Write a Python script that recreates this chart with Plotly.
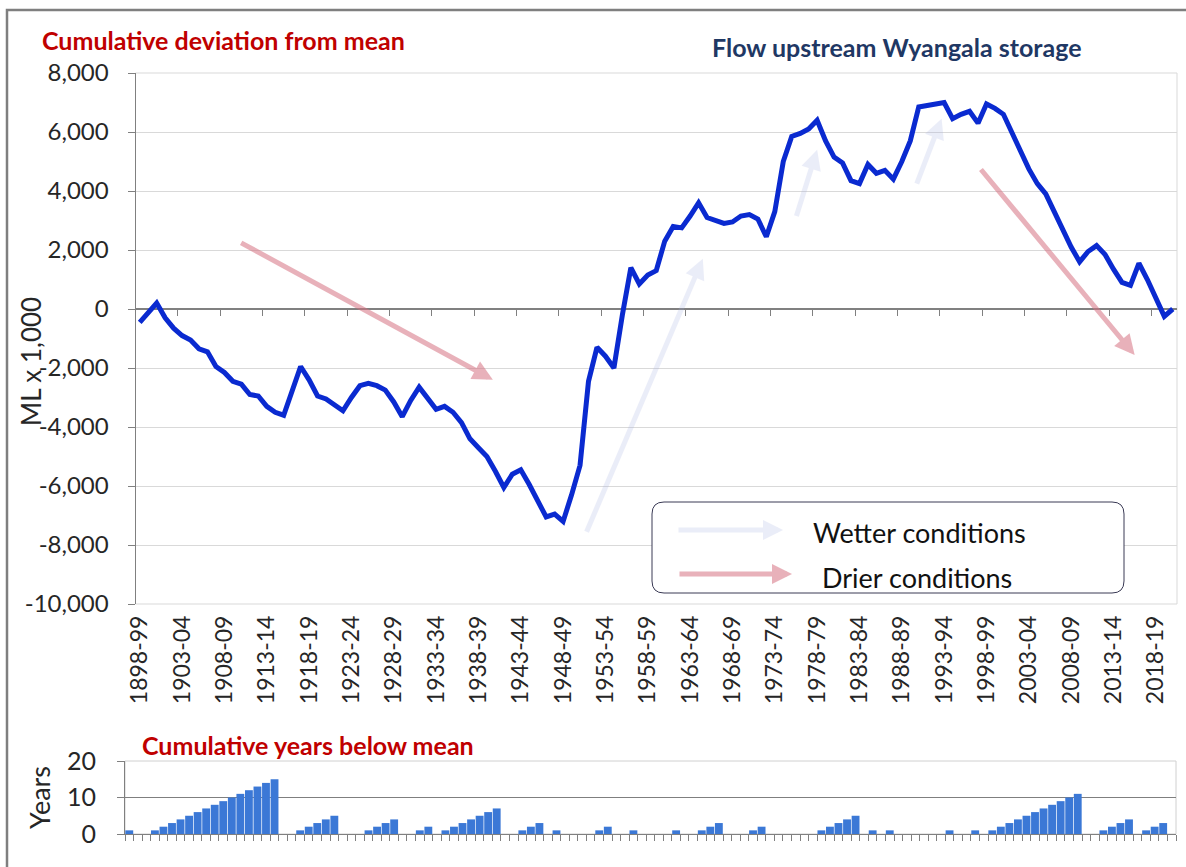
import plotly.graph_objects as go

# ---------------- data ----------------
start_year = 1898
n_years = 123
categories = [f"{y}-{str(y + 1)[-2:]}" for y in range(start_year, start_year + n_years)]

# cumulative deviation from mean (ML x 1,000), one value per water year
cum_dev = [
    -450, -120, 200, -300, -650, -900, -1050, -1350, -1450, -1950,
    -2150, -2450, -2550, -2900, -2950, -3300, -3500, -3600, -2800, -1950,
    -2400, -2950, -3050, -3250, -3450, -3000, -2600, -2520, -2600, -2750,
    -3150, -3650, -3100, -2650, -3000, -3400, -3300, -3500, -3850, -4400,
    -4700, -5000, -5500, -6050, -5600, -5450, -5950, -6500, -7050, -6950,
    -7200, -6300, -5300, -2450, -1300, -1600, -2000, -200, 1400, 850,
    1150, 1300, 2300, 2800, 2750, 3150, 3600, 3100, 3000, 2900,
    2950, 3150, 3200, 3050, 2450, 3300, 5000, 5850, 5950, 6100,
    6400, 5700, 5150, 4950, 4350, 4250, 4900, 4600, 4700, 4400,
    5000, 5700, 6850, 6900, 6920, 7000, 6450, 6600, 6700, 6300,
    6950, 6800, 6600, 5950, 5350, 4750, 4250, 3900, 3300, 2700,
    2100, 1600, 1950, 2150, 1850, 1350, 900, 800, 1550, 1000,
    350, -250, 0,
]

# cumulative years below mean
years_below = [
    1, 0, 0, 1, 2, 3, 4, 5, 6, 7, 8, 9, 10, 11, 12, 13, 14, 15, 0, 0,
    1, 2, 3, 4, 5, 0, 0, 0, 1, 2, 3, 4, 0, 0, 1, 2, 0, 1, 2, 3,
    4, 5, 6, 7, 0, 0, 1, 2, 3, 0, 1, 0, 0, 0, 0, 1, 2, 0, 0, 1,
    0, 0, 0, 0, 1, 0, 0, 1, 2, 3, 0, 0, 0, 1, 2, 0, 0, 0, 0, 0,
    0, 1, 2, 3, 4, 5, 0, 1, 0, 1, 0, 0, 0, 0, 0, 0, 1, 0, 0, 1,
    0, 1, 2, 3, 4, 5, 6, 7, 8, 9, 10, 11, 0, 0, 1, 2, 3, 4, 0, 1,
    2, 3, 0,
]

x_tick_labels = ["1898-99", "1903-04", "1908-09", "1913-14", "1918-19", "1923-24",
                 "1928-29", "1933-34", "1938-39", "1943-44", "1948-49", "1953-54",
                 "1958-59", "1963-64", "1968-69", "1973-74", "1978-79", "1983-84",
                 "1988-89", "1993-94", "1998-99", "2003-04", "2008-09", "2013-14",
                 "2018-19"]
y_tick_values = [8000, 6000, 4000, 2000, 0, -2000, -4000, -6000, -8000, -10000]
y_tick_labels = [f"{v:,}" for v in y_tick_values]
bar_tick_values = [0, 10, 20]

# --------------- layout helpers (pixel -> paper) ---------------
W, H = 1186, 867


def px(x):
    return x / W


def py(y):
    return 1 - y / H


idx = list(range(n_years))
label_pos = [categories.index(lbl) for lbl in x_tick_labels]
x_range = [-0.5, n_years - 0.5]
y_range = [-10000, 8000]

MAIN_TOP, MAIN_BOT = 73, 604
MAIN_L, MAIN_R = 135.5, 1177
BAR_TOP, BAR_BOT = 761, 834
BAR_L, BAR_R = 125, 1176

zero_pos = py(MAIN_TOP + (y_range[1] - 0) / (y_range[1] - y_range[0]) * (MAIN_BOT - MAIN_TOP))

CAL = "Lato, 'Open Sans', sans-serif"
TXT = "#262626"
GRAY = "#808080"

fig = go.Figure()

fig.add_trace(go.Scatter(
    x=idx, y=cum_dev, mode="lines",
    line=dict(color="#0a2ad0", width=5),
    xaxis="x", yaxis="y", hoverinfo="skip", showlegend=False,
))
# carrier trace for the tick-mark axis sitting on the zero line
fig.add_trace(go.Scatter(
    x=[idx[0]], y=[cum_dev[0]], mode="markers", marker=dict(opacity=0),
    xaxis="x2", yaxis="y", hoverinfo="skip", showlegend=False,
))
fig.add_trace(go.Bar(
    x=idx, y=years_below, marker=dict(color="#3b78d6", line=dict(width=0)),
    xaxis="x3", yaxis="y3", hoverinfo="skip", showlegend=False,
))

fig.update_layout(
    width=W, height=H, autosize=False,
    margin=dict(l=0, r=0, t=0, b=0, autoexpand=False),
    paper_bgcolor="white", plot_bgcolor="white",
    bargap=0.08,
    xaxis=dict(
        domain=[px(MAIN_L), px(MAIN_R)], range=x_range, anchor="y", automargin=False,
        tickmode="array", tickvals=label_pos, ticktext=x_tick_labels,
        tickangle=-90, ticks="", showgrid=False, zeroline=False, showline=False,
        tickfont=dict(family=CAL, size=23, color=TXT), ticklabelstandoff=6,
    ),
    xaxis2=dict(
        overlaying="x", anchor="free", position=zero_pos, range=x_range, automargin=False,
        tickmode="array", tickvals=[p + 4.5 for p in label_pos],
        ticks="outside", ticklen=6, tickcolor=GRAY, tickwidth=1,
        showticklabels=False, showgrid=False, zeroline=False, showline=False,
    ),
    yaxis=dict(
        domain=[py(MAIN_BOT), py(MAIN_TOP)], range=y_range, anchor="x", automargin=False,
        tickmode="array", tickvals=y_tick_values, ticktext=y_tick_labels,
        ticks="outside", ticklen=7, tickcolor=GRAY,
        showline=True, linecolor=GRAY, linewidth=1,
        showgrid=True, gridcolor="#d9d9d9", gridwidth=1,
        zeroline=True, zerolinecolor=GRAY, zerolinewidth=1.5,
        tickfont=dict(family=CAL, size=24, color=TXT), ticklabelstandoff=14,
    ),
    xaxis3=dict(
        domain=[px(BAR_L), px(BAR_R)], range=x_range, anchor="y3", automargin=False,
        tickmode="array", tickvals=[i - 0.5 for i in range(n_years + 1)],
        ticks="outside", ticklen=6, tickcolor=GRAY, showticklabels=False,
        showline=True, linecolor=GRAY, showgrid=False, zeroline=False,
    ),
    yaxis3=dict(
        domain=[py(BAR_BOT), py(BAR_TOP)], range=[0, 20], anchor="x3", automargin=False,
        tickmode="array", tickvals=bar_tick_values,
        ticks="outside", ticklen=7, tickcolor=GRAY,
        showline=True, linecolor=GRAY, showgrid=True, gridcolor="#7f7f7f",
        zeroline=False, tickfont=dict(family=CAL, size=25, color=TXT),
        ticklabelstandoff=16,
    ),
)

shapes = []
# outer chart frame (left and top)
shapes.append(dict(type="path", xref="paper", yref="paper",
                   path=f"M {px(7)},{py(880)} L {px(7)},{py(10)} L {px(1186)},{py(10)}",
                   line=dict(color="#7f7f7f", width=2.5)))
# light plot-area borders
shapes.append(dict(type="rect", xref="paper", yref="paper",
                   x0=px(MAIN_L), x1=px(MAIN_R), y0=py(MAIN_BOT), y1=py(MAIN_TOP),
                   line=dict(color="#d9d9d9", width=1), layer="below"))
shapes.append(dict(type="rect", xref="paper", yref="paper",
                   x0=px(BAR_L), x1=px(BAR_R), y0=py(BAR_BOT), y1=py(BAR_TOP),
                   line=dict(color="#d0d0d0", width=1), layer="below"))
# legend box with rounded corners
lx0, lx1, ly0, ly1 = px(652), px(1124), py(593), py(502)
rx, ry = 12 / W, 12 / H
legend_path = (f"M {lx0 + rx},{ly1} L {lx1 - rx},{ly1} Q {lx1},{ly1} {lx1},{ly1 - ry} "
               f"L {lx1},{ly0 + ry} Q {lx1},{ly0} {lx1 - rx},{ly0} "
               f"L {lx0 + rx},{ly0} Q {lx0},{ly0} {lx0},{ly0 + ry} "
               f"L {lx0},{ly1 - ry} Q {lx0},{ly1} {lx0 + rx},{ly1} Z")
shapes.append(dict(type="path", xref="paper", yref="paper", path=legend_path,
                   fillcolor="white", line=dict(color="#3a3a55", width=1), layer="above"))
fig.update_layout(shapes=shapes)

DRY = "rgba(215,115,130,0.55)"
WET = "rgba(165,175,225,0.22)"

annotations = [
    dict(text="<b>Cumulative deviation from mean</b>", xref="paper", yref="paper",
         x=px(40), y=py(40), xanchor="left", yanchor="middle", showarrow=False,
         font=dict(family=CAL, size=25, color="#c00000")),
    dict(text="<b>Flow upstream Wyangala storage</b>", xref="paper", yref="paper",
         x=px(896), y=py(47), xanchor="center", yanchor="middle", showarrow=False,
         font=dict(family=CAL, size=25, color="#1f3864")),
    dict(text="<b>Cumulative years below mean</b>", xref="paper", yref="paper",
         x=px(140), y=py(745), xanchor="left", yanchor="middle", showarrow=False,
         font=dict(family=CAL, size=25, color="#c00000")),
    dict(text="ML x 1,000", xref="paper", yref="paper", textangle=-90,
         x=px(31), y=py(362), xanchor="center", yanchor="middle", showarrow=False,
         font=dict(family=CAL, size=26, color=TXT)),
    dict(text="Years", xref="paper", yref="paper", textangle=-90,
         x=px(39), y=py(798), xanchor="center", yanchor="middle", showarrow=False,
         font=dict(family=CAL, size=27, color=TXT)),
    dict(text="Wetter conditions", xref="paper", yref="paper",
         x=px(811), y=py(532), xanchor="left", yanchor="middle", showarrow=False,
         font=dict(family=CAL, size=27, color="#111111")),
    dict(text="Drier conditions", xref="paper", yref="paper",
         x=px(820), y=py(577), xanchor="left", yanchor="middle", showarrow=False,
         font=dict(family=CAL, size=27, color="#111111")),
    # legend arrow samples
    dict(text="", xref="paper", yref="paper", x=px(783), y=py(530),
         ax=-106, ay=0, axref="pixel", ayref="pixel", showarrow=True,
         arrowhead=2, arrowsize=0.8, arrowwidth=5, arrowcolor=WET),
    dict(text="", xref="paper", yref="paper", x=px(792), y=py(574),
         ax=-114, ay=0, axref="pixel", ayref="pixel", showarrow=True,
         arrowhead=2, arrowsize=0.8, arrowwidth=5, arrowcolor=DRY),
]

# trend arrows in data coordinates: (tail index, tail value, head index, head value)
dry_arrows = [(11.8, 2270, 41.7, -2400), (99.2, 4780, 117.5, -1560)]
wet_arrows = [(52.7, -7600, 66.5, 1700), (77.5, 3100, 80.0, 5400), (91.7, 4200, 94.7, 6450)]
for (x0, y0, x1, y1) in dry_arrows:
    annotations.append(dict(text="", xref="x", yref="y", x=x1, y=y1, ax=x0, ay=y0,
                            axref="x", ayref="y", showarrow=True, arrowhead=2,
                            arrowsize=0.8, arrowwidth=5, arrowcolor=DRY))
for (x0, y0, x1, y1) in wet_arrows:
    annotations.append(dict(text="", xref="x", yref="y", x=x1, y=y1, ax=x0, ay=y0,
                            axref="x", ayref="y", showarrow=True, arrowhead=2,
                            arrowsize=0.8, arrowwidth=5, arrowcolor=WET))
fig.update_layout(annotations=annotations)

fig.write_html("out.html", include_plotlyjs=True, full_html=True,
               config={"displayModeBar": False},
               post_script="document.body.style.margin='0';document.body.style.overflow='hidden';")
